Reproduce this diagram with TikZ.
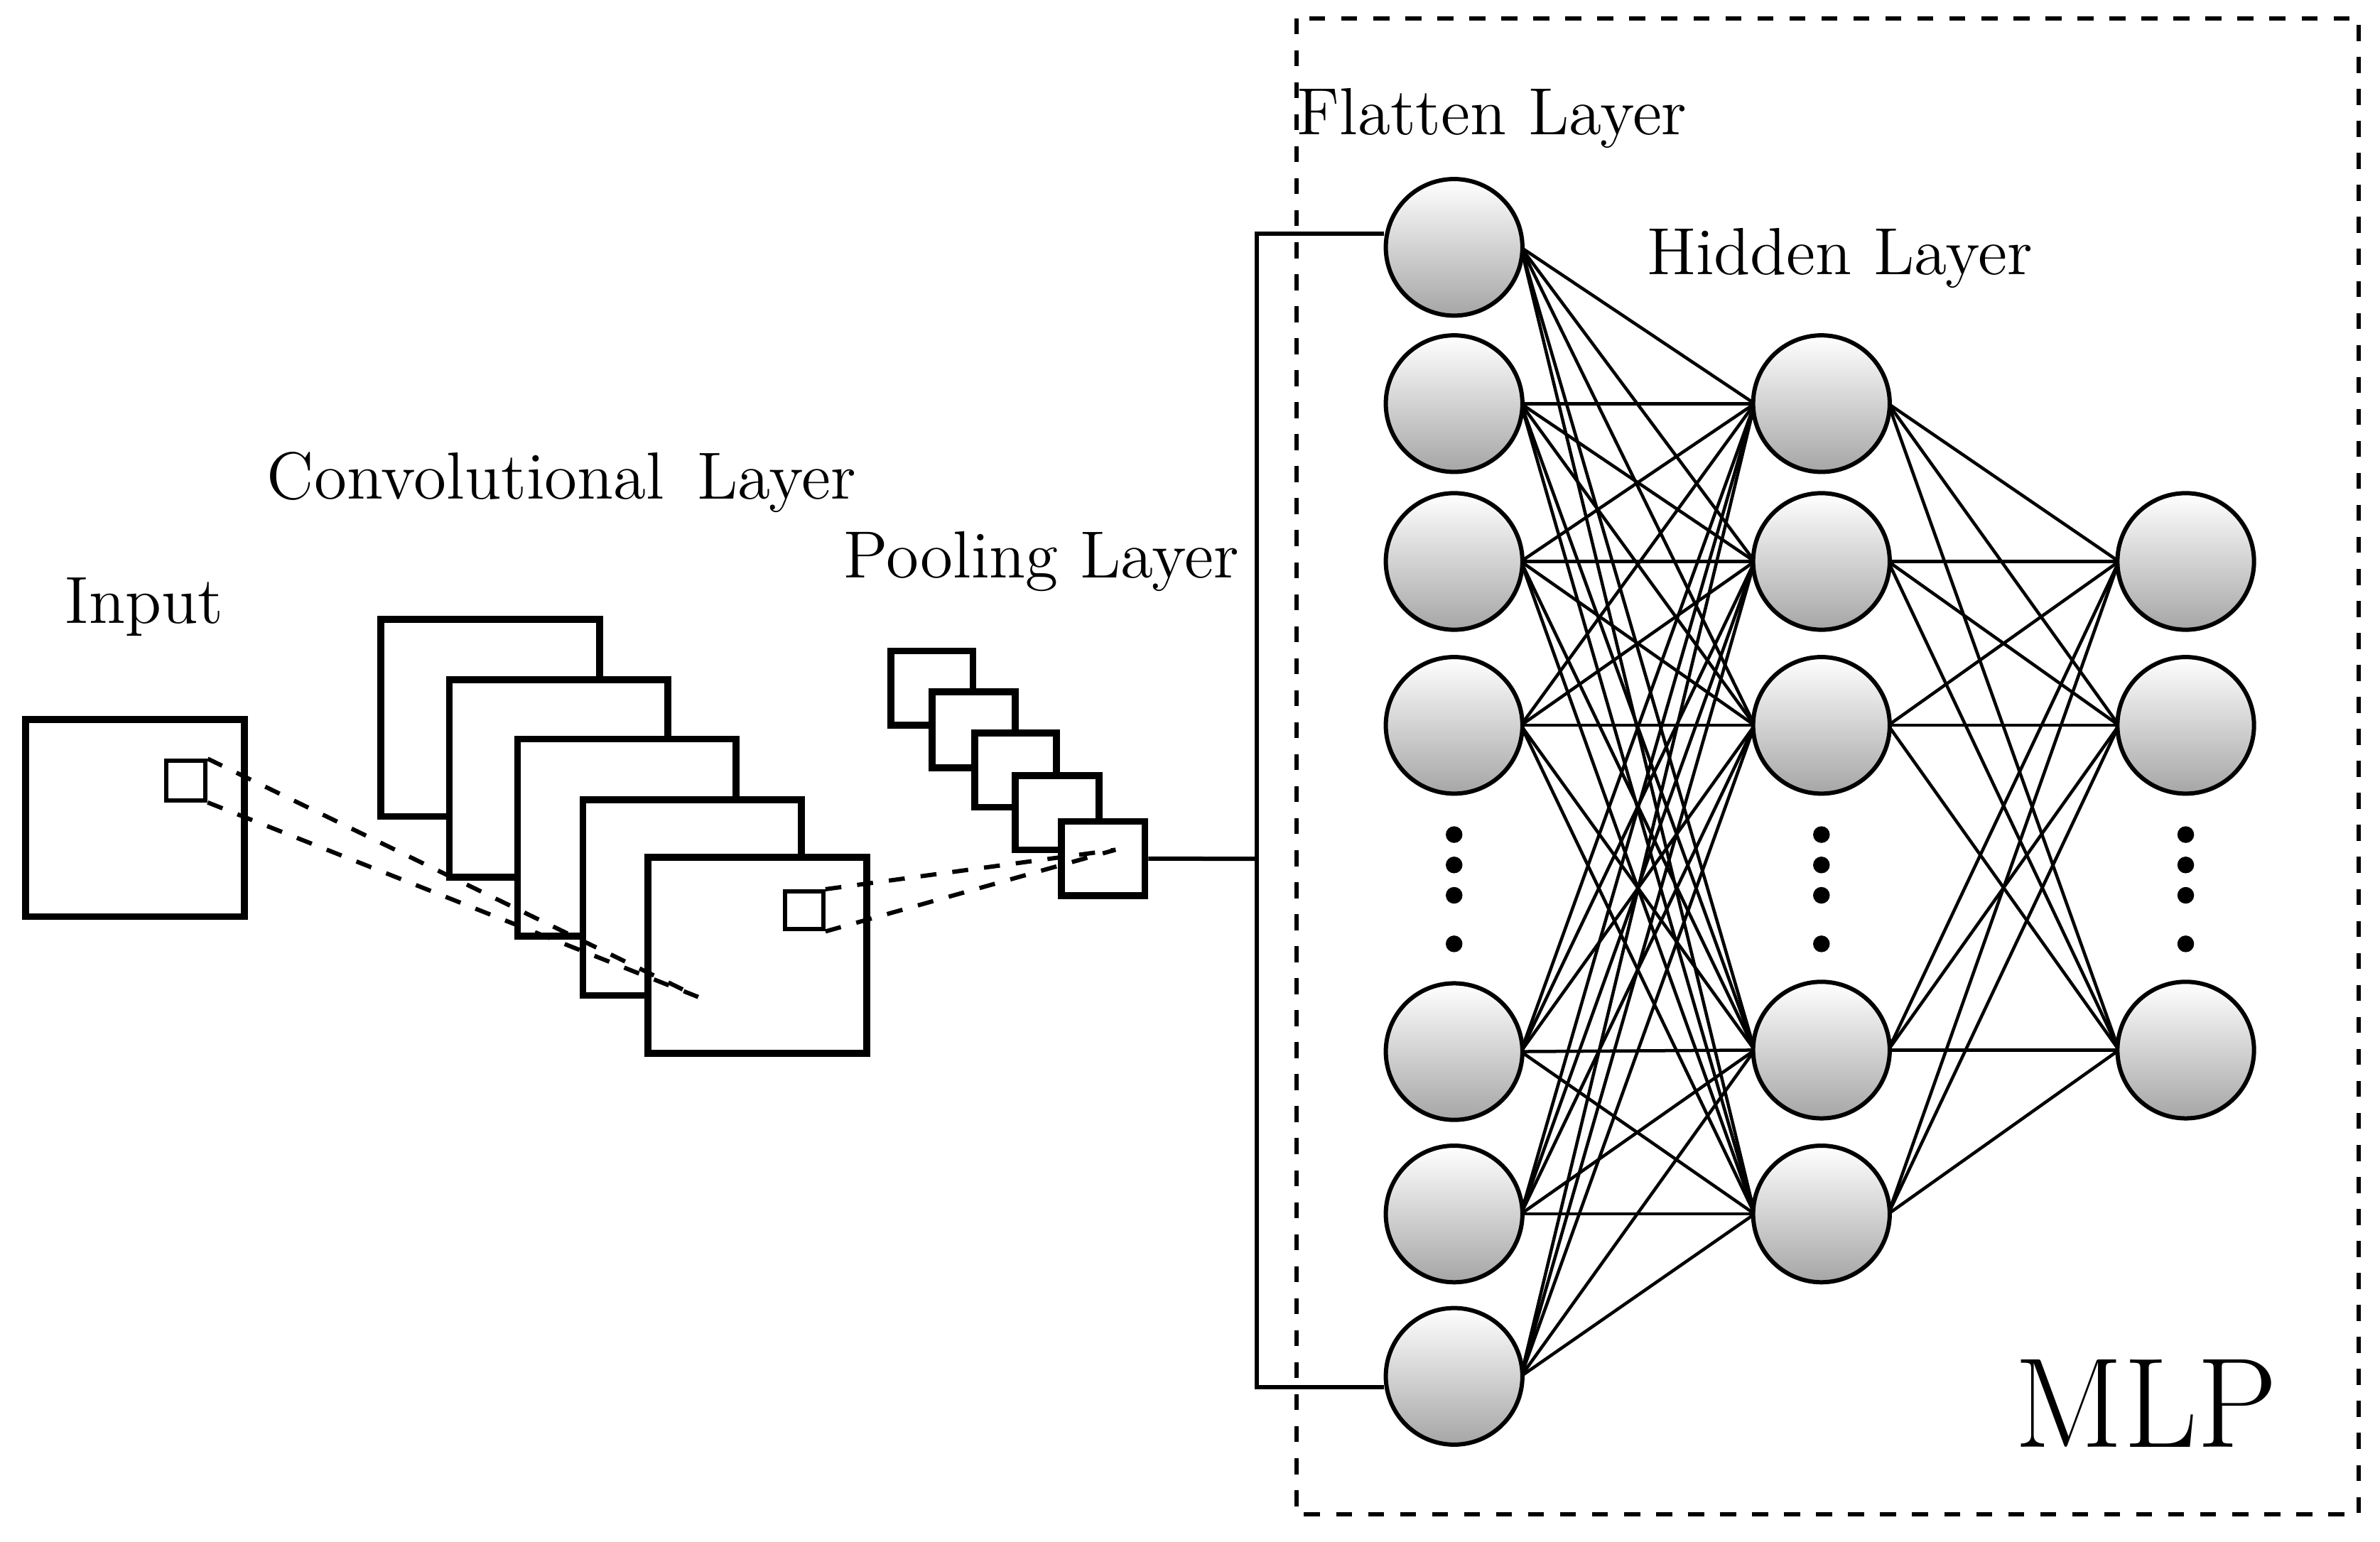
\documentclass[tikz,border=0pt]{standalone}
\begin{document}
\begin{tikzpicture}[x=0.1mm,y=-0.1mm,
  box/.style={draw,line width=1.3pt,fill=white},
  sbox/.style={draw,line width=0.8pt,fill=white},
  neuron/.style={circle,draw,line width=0.8pt,minimum size=9mm,inner sep=0pt,top color=white,bottom color=black!35},
  lab/.style={font=\fontsize{12.5}{14}\selectfont},
  conn/.style={line width=0.6pt},
  dot/.style={circle,fill=black,inner sep=0pt,minimum size=1.1mm}]
\useasboundingbox (0,0) rectangle (1568,1016);
% MLP box
\draw[dashed,line width=0.8pt] (854,12) rectangle (1554,998);
% input
\draw[box] (17,474) rectangle (161,604);
\node[sbox,minimum size=2.6mm,inner sep=0pt,anchor=north west] (is) at (108,500) {};
\node[lab] (tin) at (95,400) {Input};
% conv
\draw[box] (251,408) rectangle (395,538);
\draw[box] (296,448) rectangle (440,578);
\draw[box] (341,487) rectangle (485,617);
\draw[box] (384,527) rectangle (528,656);
\draw[box] (427,565) rectangle (571,694);
\coordinate (cp) at (460,657);
\draw[dashed,line width=0.8pt] (is.north east) -- (cp) (is.south east) -- (cp);
\node[sbox,minimum size=2.5mm,inner sep=0pt,anchor=north west] (cs) at (516,586) {};
\node[lab] (tconv) at (370,318) {Convolutional\, Layer};
% pooling
\draw[box] (587,429) rectangle (641,478);
\draw[box] (614,456) rectangle (669,506);
\draw[box] (642,483) rectangle (696,532);
\draw[box] (669,511) rectangle (724,560);
\node[box,minimum width=5.5mm,minimum height=4.9mm,inner sep=0pt,anchor=north west] (pl) at (697,539) {};
\coordinate (pp) at (735,560);
\draw[dashed,line width=0.8pt] (cs.north east) -- (pp) (cs.south east) -- (pp);
\node[lab] (tpool) at (686,370) {Pooling Layer};
% bracket
\coordinate (b0) at (828,566);
\coordinate (b1) at (828,154);
\coordinate (b2) at (828,914);
\coordinate (b3) at (912,154);
\coordinate (b4) at (912,914);
\draw[line width=0.8pt] (pl.east) -- (b0);
\draw[line width=0.8pt] (b3) -- (b1) -- (b2) -- (b4);
% neuron positions
\foreach \i/\y in {1/163,2/266,3/370,4/478,5/693,6/800,7/907} \coordinate (fc\i) at (958,\y);
\foreach \i/\y in {1/266,2/370,3/478,4/692,5/800} \coordinate (hc\i) at (1200,\y);
\foreach \i/\y in {1/370,2/478,3/692} \coordinate (oc\i) at (1440,\y);
\foreach \i in {1,...,7} \foreach \j in {1,...,5} \draw[conn] ([xshift=4.4mm]fc\i) -- ([xshift=-4.4mm]hc\j);
\foreach \i in {1,...,5} \foreach \j in {1,...,3} \draw[conn] ([xshift=4.4mm]hc\i) -- ([xshift=-4.4mm]oc\j);
\foreach \i in {1,...,7} \node[neuron] (f\i) at (fc\i) {};
\foreach \i in {1,...,5} \node[neuron] (h\i) at (hc\i) {};
\foreach \i in {1,...,3} \node[neuron] (o\i) at (oc\i) {};
\foreach \x in {958,1200,1440} \foreach \y in {550,570,590,622} \node[dot] at (\x,\y) {};
\node[lab] (tf) at (983,78) {Flatten Layer};
\node[lab] (th) at (1212,170) {Hidden Layer};
\node[font=\fontsize{24}{28}\selectfont] (tm) at (1414,925) {MLP};
\end{tikzpicture}
\end{document}
